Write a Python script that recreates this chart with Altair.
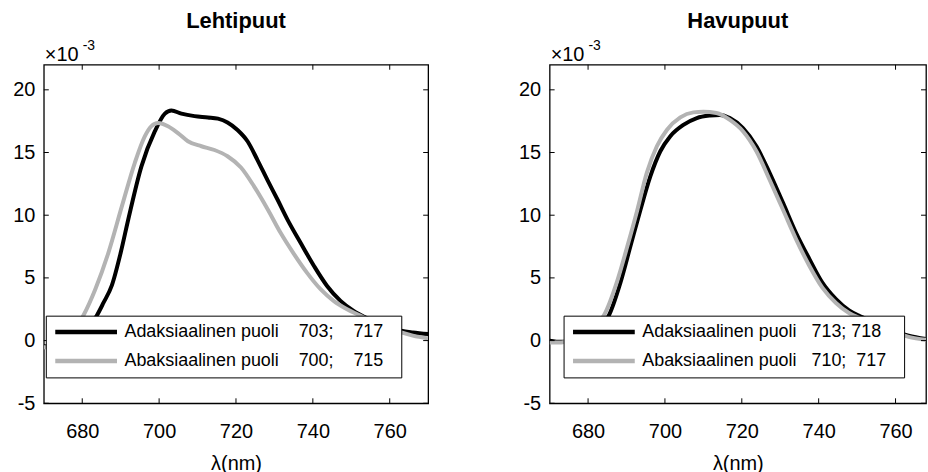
import altair as alt
import pandas as pd

# ---------------- data (values in units of 1e-3) ----------------
titles = ["Lehtipuut", "Havupuut"]
NB = "\u00a0"
PADCH = "\u2800"
series_labels_left = [
    "Adaksiaalinen puoli" + NB * 4 + "703;" + NB * 4 + "717" + PADCH,
    "Abaksiaalinen puoli" + NB * 4 + "700;" + NB * 4 + "715" + PADCH,
]
series_labels_right = [
    "Adaksiaalinen puoli" + NB * 3 + "713;" + NB + "718" + PADCH,
    "Abaksiaalinen puoli" + NB * 3 + "710;" + NB * 2 + "717" + PADCH,
]

left_black_x = [670, 673, 676, 679, 681, 683.8, 685.5, 687.7, 690, 692, 695.4, 698.9, 701.5, 703.2,
                705.8, 709.2, 712.7, 715.3, 717.8, 720.4, 723, 725.6, 728.2, 730.8, 733.4, 736.8,
                740.3, 743.7, 747.2, 750.6, 754, 757, 760, 763, 766, 770]
left_black_y = [-0.45, -0.5, -0.3, 0.2, 0.8, 2.0, 3.0, 4.4, 7.0, 9.7, 13.9, 16.7, 18.1, 18.35,
                18.1, 17.9, 17.8, 17.7, 17.4, 16.8, 15.9, 14.4, 12.8, 11.25, 9.65, 7.8,
                5.95, 4.36, 3.17, 2.37, 1.8, 1.35, 1.0, 0.78, 0.65, 0.52]

left_gray_x = [670, 673, 676, 678, 680.3, 683.4, 686.8, 690.3, 693.7, 696.3, 698, 699.7, 702.3,
               704.9, 707.5, 711, 714.4, 717.8, 721.3, 724.7, 728.2, 731.6, 735.1, 738.5, 742,
               745.4, 748.9, 752.3, 756, 760, 763, 766, 770]
left_gray_y = [-0.54, -0.5, 0.0, 0.8, 2.0, 4.1, 7.0, 10.7, 14.2, 16.3, 17.1, 17.35, 17.1,
               16.55, 15.9, 15.5, 15.2, 14.7, 13.8, 12.3, 10.5, 8.6, 6.9, 5.4, 4.1,
               3.17, 2.5, 2.0, 1.4, 0.95, 0.65, 0.4, 0.17]

right_black_x = [670, 673, 676, 679, 682, 685.4, 688.4, 691, 693.6, 696.2, 698.8, 701.4, 704.8,
                 708.3, 711.7, 714.3, 716.9, 720.3, 723.8, 727.2, 730.7, 734.1, 737.6, 741,
                 744.5, 747.9, 751.4, 755, 759, 763.4, 767.9]
right_black_y = [0.0, -0.1, 0.0, 0.4, 1.0, 2.0, 4.6, 7.5, 10.4, 13.1, 15.1, 16.3, 17.2,
                 17.75, 17.95, 18.0, 17.75, 16.95, 15.5, 13.4, 11.0, 8.6, 6.5, 4.6,
                 3.3, 2.4, 1.85, 1.3, 0.8, 0.4, 0.13]

right_gray_x = [670, 673, 676, 679, 682, 684.1, 687.6, 690.2, 692.8, 695.3, 697.9, 700.5, 704,
                707.4, 710, 713.4, 716.9, 720.3, 723.8, 727.2, 730.7, 734.1, 737.6, 741,
                744.5, 747.9, 751.4, 755, 759, 763.4, 767.9]
right_gray_y = [-0.15, -0.15, 0.1, 0.5, 1.2, 2.0, 4.77, 7.5, 10.4, 13.4, 15.5, 16.8, 17.8,
                18.2, 18.25, 18.15, 17.6, 16.7, 15.1, 12.85, 10.45, 8.1, 5.95, 4.2,
                3.0, 2.2, 1.7, 1.2, 0.75, 0.3, 0.07]

x_ticks = [680, 700, 720, 740, 760]
y_ticks = [-5, 0, 5, 10, 15, 20]
colors = ["#000000", "#b3b3b3"]

FONT = "Liberation Sans"
H = 340


def panel(title, labels, bx, by, gx, gy, width, xmax, legend_x):
    df_b = pd.DataFrame({"x": bx, "y": by, "s": labels[0]})
    df_g = pd.DataFrame({"x": gx, "y": gy, "s": labels[1]})
    sx = alt.Scale(domain=[670, xmax], nice=False, zero=False)
    sy = alt.Scale(domain=[-5, 22], nice=False, zero=False)
    ax = alt.Axis(values=x_ticks, ticks=False, domain=False, grid=False, labelFont=FONT,
                  labelFontSize=20, labelColor="black", labelPadding=18, title="\u03bb(nm)",
                  labelExpr="'' + datum.value",
                  titleFont=FONT, titleFontSize=20, titleFontWeight="normal", titleColor="black",
                  titlePadding=12)
    ay = alt.Axis(values=y_ticks, ticks=False, domain=False, grid=False, labelFont=FONT,
                  labelFontSize=20, labelColor="black", labelPadding=9, title=None,
                  labelExpr="'' + datum.value")
    color = alt.Color(
        "s:N",
        scale=alt.Scale(domain=labels, range=colors),
        legend=alt.Legend(
            orient="none", legendX=legend_x, legendY=252, title=None,
            symbolType="stroke", symbolSize=3844, symbolStrokeWidth=4.5,
            clipHeight=25, rowPadding=4, padding=4, symbolOffset=3, labelOffset=5,
            labelFont=FONT, labelFontSize=18, labelColor="black", labelLimit=600,
            fillColor="white", strokeColor="black",
        ),
    )
    line_b = alt.Chart(df_b).mark_line(strokeWidth=4, clip=True, interpolate="monotone").encode(
        x=alt.X("x:Q", scale=sx, axis=ax), y=alt.Y("y:Q", scale=sy, axis=ay), color=color)
    line_g = alt.Chart(df_g).mark_line(strokeWidth=4, clip=True, interpolate="monotone").encode(
        x=alt.X("x:Q", scale=sx, axis=ax), y=alt.Y("y:Q", scale=sy, axis=ay), color=color)

    xt = pd.DataFrame({"x": x_ticks})
    yt = pd.DataFrame({"y": y_ticks})
    tick_style = dict(color="black", strokeWidth=1)
    bot = alt.Chart(xt).mark_rule(**tick_style).encode(
        x=alt.X("x:Q", scale=sx, axis=ax), y=alt.value(H), y2=alt.value(H - 5))
    top = alt.Chart(xt).mark_rule(**tick_style).encode(
        x=alt.X("x:Q", scale=sx, axis=ax), y=alt.value(0), y2=alt.value(5))
    lft = alt.Chart(yt).mark_rule(**tick_style).encode(
        y=alt.Y("y:Q", scale=sy, axis=ay), x=alt.value(0), x2=alt.value(5))
    rgt = alt.Chart(yt).mark_rule(**tick_style).encode(
        y=alt.Y("y:Q", scale=sy, axis=ay), x=alt.value(width), x2=alt.value(width - 5))

    mult = alt.Chart(pd.DataFrame({"t": ["\u00d710"]})).mark_text(
        font=FONT, fontSize=20, align="left", baseline="alphabetic", color="black"
    ).encode(text="t:N", x=alt.value(1), y=alt.value(-4))
    expo = alt.Chart(pd.DataFrame({"t": ["-3"]})).mark_text(
        font=FONT, fontSize=14, align="left", baseline="alphabetic", color="black"
    ).encode(text="t:N", x=alt.value(39), y=alt.value(-15))

    return alt.layer(line_b, line_g, bot, top, lft, rgt, mult, expo).properties(
        width=width, height=H,
        title=alt.TitleParams(title, font=FONT, fontSize=22, fontWeight="bold", color="black",
                              anchor="middle", offset=6),
    )


left = panel(titles[0], series_labels_left, left_black_x, left_black_y, left_gray_x, left_gray_y,
             386, 770, 2)
right = panel(titles[1], series_labels_right, right_black_x, right_black_y, right_gray_x,
              right_gray_y, 378, 670 + 378 / 3.86, 14)

chart = alt.hconcat(left, right, spacing=88).resolve_scale(color="independent").properties(
    padding={"left": 12, "top": 8, "right": 0, "bottom": 0},
    background="white",
).configure_view(stroke="black", strokeWidth=1.3)

chart.save("out.html", embed_options={"renderer": "svg", "actions": False})
